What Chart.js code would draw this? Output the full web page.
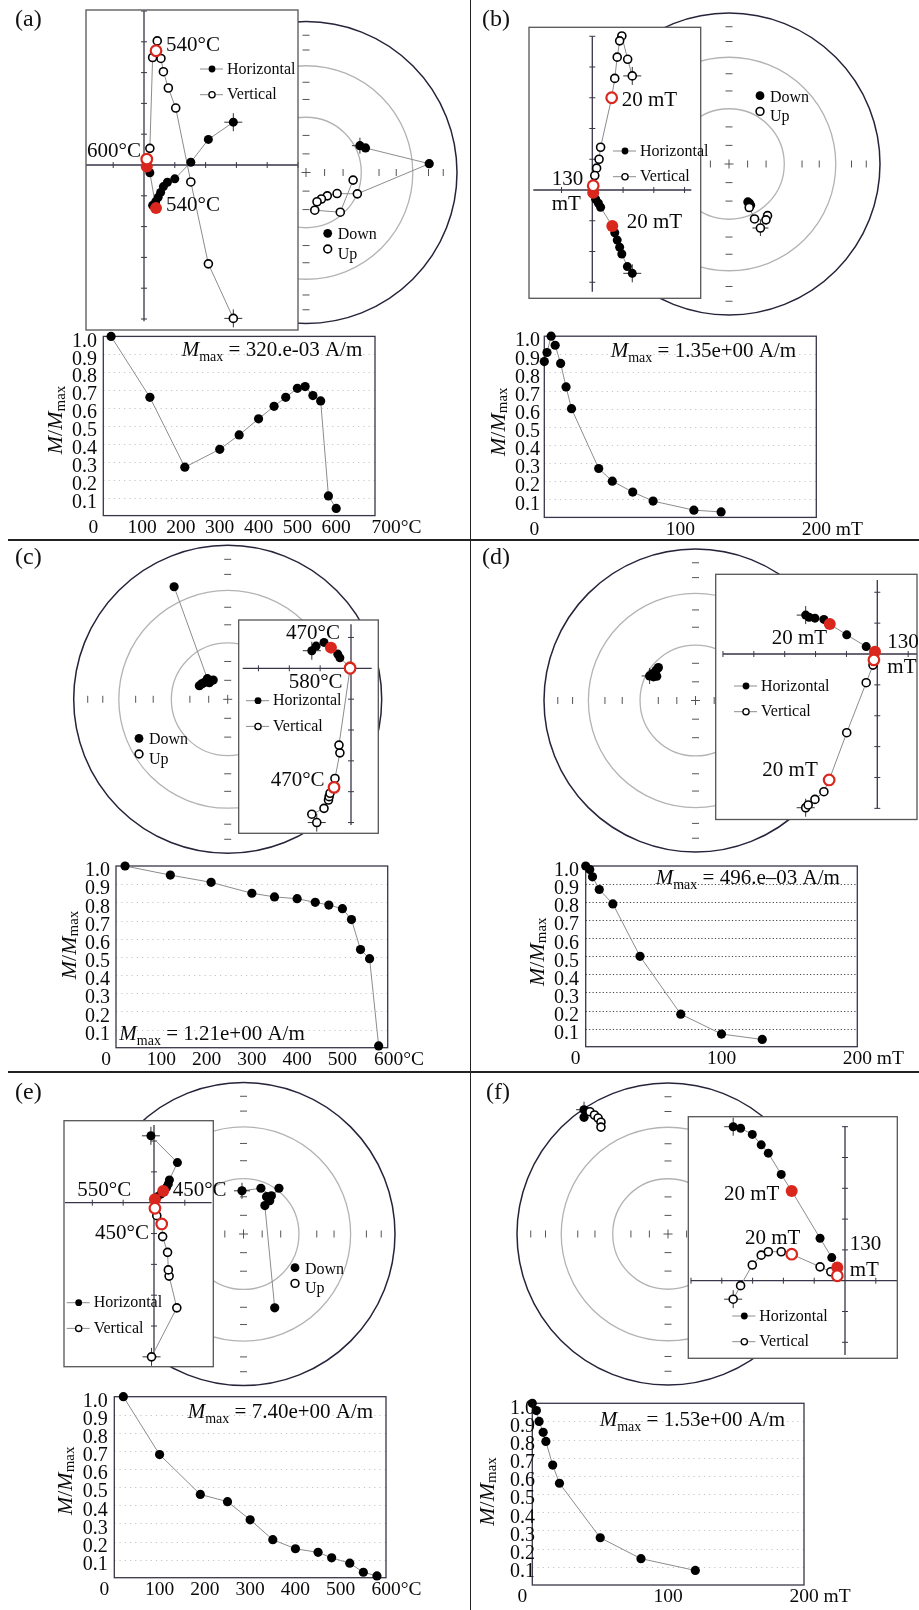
<!DOCTYPE html>
<html><head><meta charset="utf-8">
<script src="https://cdn.jsdelivr.net/npm/chart.js@4.4.1/dist/chart.umd.min.js"></script>
<style>
html,body{margin:0;padding:0;background:#fff}
body{position:relative;width:919px;height:1610px;overflow:hidden}
.pl{position:absolute;font-family:"Liberation Serif","Times New Roman",serif;font-size:24px;line-height:24px;color:#111;white-space:nowrap;z-index:5}
.hr{position:absolute;height:1.5px;background:#222;z-index:5}
.vr{position:absolute;width:1.5px;background:#222;z-index:5}
</style></head><body>
<div class="vr" style="left:469.5px;top:0;height:1610px"></div>
<div class="hr" style="left:8px;top:539.3px;width:911px"></div>
<div class="hr" style="left:8px;top:1071px;width:911px"></div>
<div class="pl" style="left:15px;top:6px">(a)</div>
<div class="pl" style="left:482px;top:6px">(b)</div>
<div class="pl" style="left:15px;top:544px">(c)</div>
<div class="pl" style="left:482px;top:544px">(d)</div>
<div class="pl" style="left:15px;top:1079px">(e)</div>
<div class="pl" style="left:486px;top:1079px">(f)</div>
<script>
const SERIF='"Liberation Serif","Times New Roman",serif';
const RED='#d9271d';
const INK='#0a0a0a';

// ---------- (a) ----------
const aTemp=[20,120,210,300,350,400,440,470,500,520,540,560,580,600];
const aMag=[1.0,0.66,0.27,0.37,0.45,0.54,0.61,0.66,0.71,0.72,0.67,0.64,0.11,0.04];
const aXTicks=[0,100,200,300,400,500,600,700];
const aHorE=[2.90,2.09,1.52,1.00,0.76,0.63,0.54,0.46,0.38,0.28,0.39,0.19,0.09];
const aHorN=[1.39,0.83,0.09,-0.45,-0.56,-0.70,-0.89,-1.05,-1.19,-1.31,-1.40,-0.25,-0.05];
const aHorRed=[10,12];
const aVerE=[2.90,2.09,1.52,1.03,0.79,0.63,0.55,0.43,0.39,0.28,0.19,0.09];
const aVerU=[-4.98,-3.21,-0.55,1.85,2.50,3.03,3.46,4.03,3.71,3.49,0.54,0.19];
const aVerRed=[8,11];
const aNetE=[0.357,0.394,0.816,0.340,0.206,0.141,0.102,0.073,0.058,0.227,0.312];
const aNetN=[0.177,0.162,0.058,-0.141,-0.139,-0.154,-0.175,-0.193,-0.249,-0.262,-0.050];
const aNetDown=[1,1,1,0,0,0,0,0,0,0,0];
const aMmax='320.e-03 A/m';

// ---------- (b) ----------
const bField=[0,2,5,8,12,16,20,40,50,65,80,110,130];
const bMag=[0.86,0.91,1.0,0.95,0.85,0.72,0.60,0.27,0.20,0.14,0.09,0.04,0.03];
const bXTicks=[0,100,200];
const bHorE=[1.30,1.14,0.96,0.89,0.81,0.73,0.65,0.27,0.20,0.11,0.03];
const bHorN=[-2.71,-2.49,-2.08,-1.86,-1.63,-1.39,-1.17,-0.56,-0.43,-0.30,-0.09];
const bHorRed=[6,10];
const bVerE=[1.30,1.15,0.96,0.89,0.81,0.73,0.63,0.27,0.22,0.14,0.08,0.03];
const bVerU=[3.71,4.25,5.01,4.85,4.32,3.63,3.00,1.39,1.00,0.71,0.47,0.14];
const bVerRed=[6,11];
const bNetE=[0.208,0.255,0.245,0.169,0.134,0.143,0.136,0.125];
const bNetN=[-0.424,-0.342,-0.370,-0.364,-0.288,-0.273,-0.260,-0.251];
const bNetDown=[0,0,0,0,0,1,1,1];
const bMmax='1.35e+00 A/m';

// ---------- (c) ----------
const cTemp=[20,120,210,300,350,400,440,470,500,520,540,560,580];
const cMag=[1.0,0.95,0.91,0.85,0.83,0.82,0.80,0.785,0.765,0.705,0.54,0.49,0.01];
const cXTicks=[0,100,200,300,400,500,600];
const cHorE=[-1.27,-1.13,-0.875,-0.65,-0.43,-0.36,-0.03];
const cHorN=[0.57,0.72,0.84,0.67,0.46,0.34,0.03];
const cHorRed=[3,6];
const cVerE=[-1.11,-1.27,-0.875,-0.73,-0.71,-0.68,-0.55,-0.52,-0.36,-0.39,-0.03];
const cVerU=[-5.0,-4.73,-4.54,-4.27,-4.16,-4.05,-3.86,-3.57,-2.74,-2.49,0.0];
const cVerRed=[6,10];
const cNetE=[-0.348,-0.132,-0.094,-0.119,-0.154,-0.184,-0.170];
const cNetN=[0.731,0.134,0.125,0.108,0.108,0.088,0.100];
const cNetDown=[1,1,1,1,1,1,1];
const cMmax='1.21e+00 A/m';

// ---------- (d) ----------
const dField=[0,3,5,10,20,40,70,100,130];
const dMag=[1.0,0.98,0.94,0.87,0.79,0.50,0.18,0.07,0.04];
const dXTicks=[0,100,200];
const dHorE=[-2.32,-2.21,-2.02,-1.73,-1.54,-0.99,-0.36,-0.075];
const dHorN=[1.26,1.19,1.16,1.12,0.97,0.62,0.24,0.075];
const dHorRed=[4,7];
const dVerE=[-2.32,-2.24,-2.02,-1.73,-1.56,-0.99,-0.36,-0.14,-0.11];
const dVerU=[-4.98,-4.89,-4.71,-4.46,-4.08,-2.55,-0.93,-0.36,-0.19];
const dVerRed=[4,8];
const dNetE=[-0.303,-0.282,-0.260,-0.245,-0.256,-0.277];
const dNetN=[0.162,0.178,0.200,0.217,0.160,0.156];
const dNetDown=[1,1,1,1,1,1];
const dMmax='496.e\u201303 A/m';

// ---------- (e) ----------
const eTemp=[20,100,190,250,300,350,400,450,480,520,550,580];
const eMag=[1.0,0.68,0.46,0.42,0.32,0.21,0.16,0.14,0.11,0.08,0.03,0.01];
const eXTicks=[0,100,200,300,400,500,600];
const eHorE=[-0.10,0.76,0.50,0.465,0.41,0.30,0.22,0.11,0.03];
const eHorN=[2.17,1.30,0.74,0.61,0.50,0.38,0.28,0.19,0.11];
const eHorRed=[5,8];
const eVerE=[-0.08,0.74,0.49,0.465,0.44,0.28,0.25,0.09,0.03];
const eVerU=[-5.0,-3.41,-2.38,-2.18,-1.61,-1.10,-0.69,-0.42,-0.18];
const eVerRed=[6,8];
const eNetE=[-0.010,0.115,0.184,0.234,0.173,0.152,0.141,0.206];
const eNetN=[0.286,0.303,0.253,0.303,0.221,0.247,0.188,-0.489];
const eNetDown=[1,1,1,1,1,1,1,1];
const eMmax='7.40e+00 A/m';

// ---------- (f) ----------
const fField=[0,3,5,8,10,15,20,50,80,120];
const fMag=[1.0,0.96,0.90,0.84,0.79,0.66,0.56,0.26,0.145,0.08];
const fXTicks=[0,100,200];
const fHorE=[-3.63,-3.39,-3.01,-2.72,-2.49,-2.07,-1.73,-0.81,-0.43,-0.25];
const fHorN=[5.0,4.95,4.75,4.41,4.14,3.45,2.91,1.38,0.75,0.43];
const fHorRed=[6,9];
const fVerE=[-3.63,-3.39,-3.01,-2.72,-2.49,-2.07,-1.73,-0.81,-0.46,-0.25];
const fVerU=[-0.60,-0.16,0.51,0.83,0.94,0.94,0.86,0.45,0.29,0.16];
const fVerRed=[6,9];
const fNetE=[-0.556,-0.556,-0.517,-0.487,-0.463,-0.444,-0.444];
const fNetN=[0.823,0.773,0.810,0.788,0.768,0.740,0.708];
const fNetDown=[1,1,0,0,0,0,0];
const fMmax='1.53e+00 A/m';

// ---------- layout (page pixel positions only) ----------
const LAY={
 a:{net:{cx:306,cy:172.3,R:154,leg:[327.7,233.3],cross:0},
    zij:{box:[86,10,298,330],o:[144,165],u:30.8,h:[-1.88,5.0],v:[-5.07,5.0],leg:[200,69],
         txt:[['540°C',166,45],['600°C',87,151],['540°C',166,205]]},
    dem:{box:[103.3,336.4,375,515.6],xmax:700,unit:'°C',lastShift:11,lab:97,tx:56.5,ty:420,ann:[181.7,356],dots:false}},
 b:{net:{cx:729,cy:164,R:154,leg:[760,95.7],cross:0},
    zij:{box:[529,27.3,700.7,298.3],o:[592.3,190],u:30.75,h:[-1.92,3.22],v:[-3.31,5.0],leg:[613,151],
         txt:[['20 mT',621.7,100],['20 mT',626.7,222.7],['130',551.7,179],['mT',551.7,204]]},
    dem:{box:[544.3,336.2,816.3,517.4],xmax:200,unit:' mT',lastShift:0,lab:540,tx:499,ty:421.7,ann:[610.7,356.7],dots:false}},
 c:{net:{cx:227.7,cy:699.3,R:154,leg:[139,738.3],cross:-1},
    zij:{box:[238.7,620,378.3,833.3],o:[351,668.3],u:30.85,h:[-3.51,0.67],v:[-5.08,1.43],leg:[246,700.7],
         txt:[['470°C',286,633.3],['580°C',288.7,682.7],['470°C',270.7,780]]},
    dem:{box:[116,866,387.7,1047.7],xmax:600,unit:'°C',lastShift:1,lab:110,tx:70,ty:945,ann:[119.3,1040],dots:false}},
 d:{net:{cx:695.7,cy:700.7,R:154,leg:null,cross:0},
    zij:{box:[715.7,574.3,917,819.5],o:[877.3,654],u:30.87,h:[-5.0,1.29],v:[-5.0,2.4],leg:[734,686],
         txt:[['20 mT',771.7,638.3],['130',887.3,642.3],['mT',887.3,667.3],['20 mT',762.3,770]]},
    dem:{box:[585.7,866,857.3,1046.7],xmax:200,unit:' mT',lastShift:0,lab:579,tx:538,ty:951.7,ann:[655.7,884],dots:true}},
 e:{net:{cx:243.3,cy:1234,R:154,leg:[295,1267.7],cross:0},
    zij:{box:[64,1120.7,213.3,1366.7],o:[154,1202.7],u:30.83,h:[-2.89,1.87],v:[-5.0,2.52],leg:[66.7,1302.7],
         txt:[['550°C',77.3,1190.7],['450°C',172.7,1190.7],['450°C',95,1233.3]]},
    dem:{box:[114.3,1396.7,386,1577.7],xmax:600,unit:'°C',lastShift:0,lab:107.7,tx:66,ty:1480.8,ann:[187.7,1418.3],dots:false}},
 f:{net:{cx:668,cy:1234,R:154,leg:null,cross:0},
    zij:{box:[688.3,1116.7,897.3,1358.3],o:[845,1280.7],u:30.8,h:[-5.01,1.70],v:[-2.41,5.02],leg:[732.3,1316],
         txt:[['20 mT',724,1194],['20 mT',745,1238.3],['130',849.7,1244],['mT',849.7,1270]]},
    dem:{box:[532.3,1403.3,804,1585],xmax:200,unit:' mT',lastShift:0,lab:535,tx:488,ty:1491.5,ann:[599.7,1426],dots:false}}
};

// ---------- helpers ----------
function place(L,T,R,B,ml,mt,mr,mb){
  const l=Math.floor(L-ml),t=Math.floor(T-mt),r=Math.ceil(R+mr),b=Math.ceil(B+mb);
  return {l:l,t:t,w:r-l,h:b-t,pad:{left:L-l,top:T-t,right:r-R,bottom:b-B}};
}
function canvasAt(p,z){
  const c=document.createElement('canvas');
  c.width=p.w;c.height=p.h;
  c.style.cssText='position:absolute;left:'+p.l+'px;top:'+p.t+'px;width:'+p.w+'px;height:'+p.h+'px;z-index:'+z;
  document.body.appendChild(c);return c;
}
function opts(p,x0,x1,y0,y1){
  return {responsive:false,maintainAspectRatio:false,animation:false,events:[],devicePixelRatio:1,
    layout:{padding:p.pad},plugins:{legend:{display:false},tooltip:{enabled:false}},
    scales:{x:{type:'linear',min:x0,max:x1,display:false},y:{type:'linear',min:y0,max:y1,display:false}}};
}
function pts(xs,ys){return xs.map((x,i)=>({x:x,y:ys[i]}));}
function dot(c,x,y,r,fill,stroke,lw){c.beginPath();c.arc(x,y,r,0,Math.PI*2);if(fill){c.fillStyle=fill;c.fill();}if(stroke){c.strokeStyle=stroke;c.lineWidth=lw;c.stroke();}}
function rich(c,parts,align){
  let w=0;parts.forEach(q=>{c.font=q[1]+' '+SERIF;q.w=c.measureText(q[0]).width;w+=q.w;});
  let x=align==='center'?-w/2:0;
  c.textAlign='left';c.textBaseline=align==='center'?'middle':'alphabetic';
  parts.forEach(q=>{c.font=q[1]+' '+SERIF;c.fillText(q[0],x,q[2]||0);x+=q.w;});
}

// ---------- stereonet ----------
function netChart(L,E,N,down){
  const p=place(L.cx-L.R,L.cy-L.R,L.cx+L.R,L.cy+L.R,6,6,6,6);
  const cv=canvasAt(p,1);
  const plugin={id:'net',
    beforeDatasetsDraw(ch){
      const c=ch.ctx,xs=ch.scales.x,ys=ch.scales.y;
      const x0=xs.getPixelForValue(0),y0=ys.getPixelForValue(0),R=xs.getPixelForValue(1)-x0;
      const rr=I=>R*Math.SQRT2*Math.sin((90-I)*Math.PI/360);
      c.save();
      c.strokeStyle='#b3b3b3';c.lineWidth=1.3;
      [60,30].forEach(I=>{c.beginPath();c.arc(x0,y0,rr(I),0,2*Math.PI);c.stroke();});
      c.strokeStyle='#26233a';c.lineWidth=1.5;c.beginPath();c.arc(x0,y0,R,0,2*Math.PI);c.stroke();
      c.strokeStyle='#555';c.lineWidth=1;
      [80,70,50,40,20,10].forEach(I=>{const r=rr(I);[1,-1].forEach(s=>{
        c.beginPath();c.moveTo(x0+s*r,y0-3.5);c.lineTo(x0+s*r,y0+3.5);c.stroke();
        c.beginPath();c.moveTo(x0-3.5,y0+s*r);c.lineTo(x0+3.5,y0+s*r);c.stroke();});});
      c.beginPath();c.moveTo(x0-4.5,y0);c.lineTo(x0+4.5,y0);c.moveTo(x0,y0-4.5);c.lineTo(x0,y0+4.5);c.stroke();
      c.restore();
    },
    afterDatasetsDraw(ch){
      if(!L.leg)return;
      const c=ch.ctx,lx=L.leg[0]-p.l,ly=L.leg[1]-p.t;
      c.save();
      dot(c,lx,ly,4.4,'#000');
      dot(c,lx,ly+15.7,3.9,'#fff','#000',1.6);
      c.fillStyle=INK;c.font='16px '+SERIF;c.textAlign='left';c.textBaseline='alphabetic';
      c.fillText('Down',lx+10,ly+6);c.fillText('Up',lx+10,ly+25.5);
      c.restore();
    }};
  const P=()=>pts(E,N);
  new Chart(cv,{type:'scatter',data:{datasets:[
    {data:P(),showLine:true,borderColor:'#8c8c8c',borderWidth:1,pointRadius:0,order:10,clip:false},
    {data:L.cross>=0?[P()[L.cross]]:[],pointStyle:'cross',pointRadius:8,pointBorderColor:'#333',pointBorderWidth:1,order:9,clip:false},
    {data:P().filter((q,i)=>down[i]),pointRadius:4.6,pointBackgroundColor:'#000',pointBorderColor:'#000',pointBorderWidth:0,order:8,clip:false},
    {data:P().filter((q,i)=>!down[i]),pointRadius:4,pointBackgroundColor:'#fff',pointBorderColor:'#000',pointBorderWidth:1.6,order:7,clip:false}
  ]},options:opts(p,-1,1,-1,1),plugins:[plugin]});
}

// ---------- Zijderveld inset ----------
function zijChart(L,HE,HN,VE,VU,hRed,vRed){
  const bl=L.box[0],bt=L.box[1],br=L.box[2],bb=L.box[3],ox=L.o[0],oy=L.o[1],u=L.u;
  const p=place(bl,bt,br,bb,40,10,40,10);
  const cv=canvasAt(p,2);
  const plugin={id:'zij',
    beforeDraw(ch){const a=ch.chartArea,c=ch.ctx;c.save();c.fillStyle='#fff';c.fillRect(a.left,a.top,a.right-a.left,a.bottom-a.top);c.restore();},
    beforeDatasetsDraw(ch){
      const c=ch.ctx,xs=ch.scales.x,ys=ch.scales.y,X=v=>xs.getPixelForValue(v),Y=v=>ys.getPixelForValue(v);
      c.save();c.strokeStyle='#3a3548';c.lineWidth=1.3;
      c.beginPath();c.moveTo(X(L.h[0]),Y(0));c.lineTo(X(L.h[1]),Y(0));
      c.moveTo(X(0),Y(L.v[0]));c.lineTo(X(0),Y(L.v[1]));c.stroke();
      c.lineWidth=1;
      for(let k=Math.ceil(L.h[0]);k<=L.h[1];k++){if(k){c.beginPath();c.moveTo(X(k),Y(0)-3);c.lineTo(X(k),Y(0)+3);c.stroke();}}
      for(let k=Math.ceil(L.v[0]);k<=L.v[1];k++){if(k){c.beginPath();c.moveTo(X(0)-3,Y(k));c.lineTo(X(0)+3,Y(k));c.stroke();}}
      c.restore();
    },
    afterDatasetsDraw(ch){
      const c=ch.ctx,a=ch.chartArea;
      c.save();
      c.strokeStyle='#555';c.lineWidth=1.3;c.strokeRect(a.left,a.top,a.right-a.left,a.bottom-a.top);
      const lx=L.leg[0]-p.l,ly=L.leg[1]-p.t;
      c.strokeStyle='#8c8c8c';c.lineWidth=1;
      [0,25.7].forEach(d=>{c.beginPath();c.moveTo(lx,ly+d);c.lineTo(lx+23,ly+d);c.stroke();});
      dot(c,lx+12,ly,3.4,'#000');
      dot(c,lx+12,ly+25.7,3.1,'#fff','#000',1.3);
      c.fillStyle=INK;c.font='16px '+SERIF;c.textAlign='left';c.textBaseline='middle';
      c.fillText('Horizontal',lx+27,ly+0.5);c.fillText('Vertical',lx+27,ly+26.2);
      c.font='21px '+SERIF;
      L.txt.forEach(t=>c.fillText(t[0],t[1]-p.l,t[2]-p.t));
      c.restore();
    }};
  const H=()=>pts(HE,HN),V=()=>pts(VE,VU);
  new Chart(cv,{type:'scatter',data:{datasets:[
    {data:H(),showLine:true,borderColor:'#8c8c8c',borderWidth:1,pointRadius:0,order:10,clip:false},
    {data:V(),showLine:true,borderColor:'#8c8c8c',borderWidth:1,pointRadius:0,order:10,clip:false},
    {data:[H()[0],V()[0]],pointStyle:'cross',pointRadius:9,pointBorderColor:'#333',pointBorderWidth:1,order:9,clip:false},
    {data:H(),pointRadius:4.5,pointBackgroundColor:'#000',pointBorderColor:'#000',pointBorderWidth:0,order:8,clip:false},
    {data:V(),pointRadius:4,pointBackgroundColor:'#fff',pointBorderColor:'#000',pointBorderWidth:1.6,order:7,clip:false},
    {data:hRed.map(i=>H()[i]),pointRadius:6,pointBackgroundColor:RED,pointBorderColor:RED,pointBorderWidth:0,order:6,clip:false},
    {data:vRed.map(i=>V()[i]),pointRadius:5.3,pointBackgroundColor:'#fff',pointBorderColor:RED,pointBorderWidth:2.2,order:5,clip:false}
  ]},options:opts(p,(bl-ox)/u,(br-ox)/u,(oy-bb)/u,(oy-bt)/u),plugins:[plugin]});
}

// ---------- demagnetisation curve ----------
function demChart(L,X,Y,xticks,mmax){
  const bl=L.box[0],bt=L.box[1],br=L.box[2],bb=L.box[3];
  const p=place(bl,bt,br,bb,72,8,70,30);
  const cv=canvasAt(p,3);
  const plugin={id:'dem',
    beforeDatasetsDraw(ch){
      const c=ch.ctx,a=ch.chartArea,ys=ch.scales.y;
      c.save();
      c.strokeStyle=L.dots?'#444':'#c4c4c4';c.lineWidth=1;c.setLineDash(L.dots?[1.2,2.2]:[1.2,4]);
      for(let k=1;k<=9;k++){const y=Math.round(ys.getPixelForValue(k/10))+0.5;c.beginPath();c.moveTo(a.left,y);c.lineTo(a.right,y);c.stroke();}
      c.setLineDash([]);
      c.strokeStyle='#3a3548';c.lineWidth=1.3;c.strokeRect(a.left,a.top,a.right-a.left,a.bottom-a.top);
      c.restore();
    },
    afterDatasetsDraw(ch){
      const c=ch.ctx,a=ch.chartArea,xs=ch.scales.x,ys=ch.scales.y;
      c.save();c.fillStyle=INK;c.font='20px '+SERIF;
      c.textAlign='right';c.textBaseline='middle';
      const rx=L.lab-p.l;
      for(let k=1;k<=10;k++)c.fillText((k/10).toFixed(1),rx,ys.getPixelForValue(k/10)+5);
      const ly=a.bottom+12;
      c.font='19.5px '+SERIF;
      xticks.forEach((v,i)=>{
        const x=xs.getPixelForValue(v);
        if(i===0){c.textAlign='center';c.fillText(String(v),x-10,ly);}
        else if(i===xticks.length-1){const s=String(v),w=c.measureText(s).width;c.textAlign='left';c.fillText(s+L.unit,x+L.lastShift-w/2,ly);}
        else{c.textAlign='center';c.fillText(String(v),x,ly);}
      });
      c.translate(L.tx-p.l,L.ty-p.t);c.rotate(-Math.PI/2);
      rich(c,[['M','italic 22px'],['/','22px'],['M','italic 22px'],['max','15px',4.5]],'center');
      c.restore();
      c.save();c.fillStyle=INK;c.translate(L.ann[0]-p.l,L.ann[1]-p.t);
      rich(c,[['M','italic 21px'],['max','14px',5],[' = '+mmax,'21px']],'left');
      c.restore();
    }};
  new Chart(cv,{type:'scatter',data:{datasets:[
    {data:pts(X,Y),showLine:true,borderColor:'#8c8c8c',borderWidth:1,pointRadius:4.6,pointBackgroundColor:'#000',pointBorderColor:'#000',pointBorderWidth:0,clip:false}
  ]},options:opts(p,0,L.xmax,0,1),plugins:[plugin]});
}

// ---------- build ----------
netChart(LAY.a.net,aNetE,aNetN,aNetDown);
netChart(LAY.b.net,bNetE,bNetN,bNetDown);
netChart(LAY.c.net,cNetE,cNetN,cNetDown);
netChart(LAY.d.net,dNetE,dNetN,dNetDown);
netChart(LAY.e.net,eNetE,eNetN,eNetDown);
netChart(LAY.f.net,fNetE,fNetN,fNetDown);
zijChart(LAY.a.zij,aHorE,aHorN,aVerE,aVerU,aHorRed,aVerRed);
zijChart(LAY.b.zij,bHorE,bHorN,bVerE,bVerU,bHorRed,bVerRed);
zijChart(LAY.c.zij,cHorE,cHorN,cVerE,cVerU,cHorRed,cVerRed);
zijChart(LAY.d.zij,dHorE,dHorN,dVerE,dVerU,dHorRed,dVerRed);
zijChart(LAY.e.zij,eHorE,eHorN,eVerE,eVerU,eHorRed,eVerRed);
zijChart(LAY.f.zij,fHorE,fHorN,fVerE,fVerU,fHorRed,fVerRed);
demChart(LAY.a.dem,aTemp,aMag,aXTicks,aMmax);
demChart(LAY.b.dem,bField,bMag,bXTicks,bMmax);
demChart(LAY.c.dem,cTemp,cMag,cXTicks,cMmax);
demChart(LAY.d.dem,dField,dMag,dXTicks,dMmax);
demChart(LAY.e.dem,eTemp,eMag,eXTicks,eMmax);
demChart(LAY.f.dem,fField,fMag,fXTicks,fMmax);
</script>
</body></html>
